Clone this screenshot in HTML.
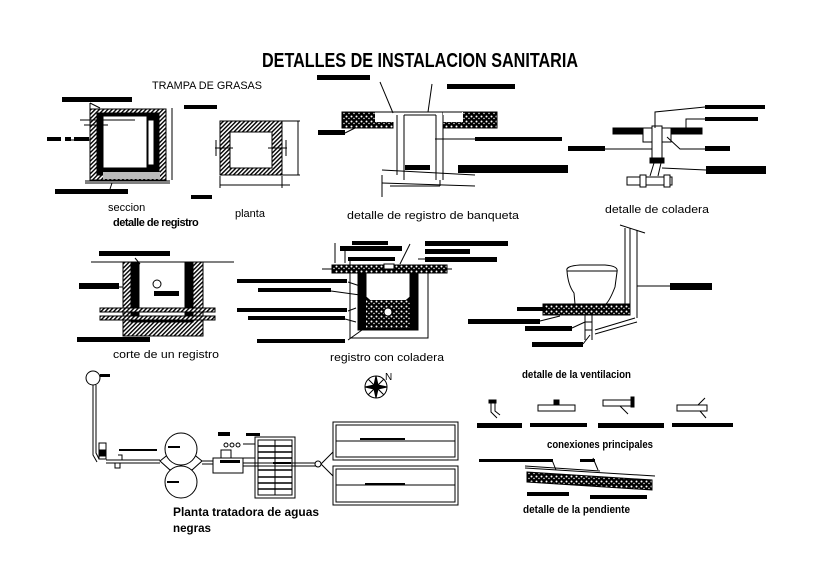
<!DOCTYPE html>
<html><head><meta charset="utf-8"><style>
html,body{margin:0;padding:0;background:#fff;}
svg{display:block;}
text{font-family:"Liberation Sans",sans-serif;fill:#000;}
</style></head><body>
<svg width="814" height="576" viewBox="0 0 814 576" xmlns="http://www.w3.org/2000/svg">
<defs>
<pattern id="h" width="3" height="3" patternUnits="userSpaceOnUse" patternTransform="rotate(45)">
<rect width="3" height="3" fill="#fff"/><rect width="1.4" height="3" fill="#000"/></pattern>
<pattern id="g" width="5" height="5" patternUnits="userSpaceOnUse">
<rect width="5" height="5" fill="#000"/><circle cx="1.5" cy="1.5" r="1" fill="#fff"/><circle cx="4" cy="3.5" r="0.7" fill="#fff"/></pattern>
</defs>
<rect width="814" height="576" fill="#fff"/>
<g fill="none" stroke="#000" stroke-width="1">
<!-- Title -->
<text x="262" y="67" font-size="20" font-weight="bold" textLength="316" lengthAdjust="spacingAndGlyphs" stroke="none">DETALLES DE INSTALACION SANITARIA</text>
<text x="152" y="89" font-size="11" textLength="110" lengthAdjust="spacingAndGlyphs" stroke="none">TRAMPA DE GRASAS</text>

<!-- seccion -->
<rect x="90" y="109" width="76" height="71" fill="url(#h)"/>
<rect x="97" y="113" width="62" height="62" fill="#000"/>
<rect x="103" y="116" width="44" height="52" fill="#fff"/>
<rect x="103" y="172" width="57" height="7" fill="#bbb" stroke="none"/>
<rect x="148" y="120" width="6" height="45" fill="#fff"/>
<line x1="80" y1="120" x2="135" y2="120"/><line x1="84" y1="125" x2="108" y2="125"/>
<line x1="172" y1="108" x2="172" y2="180"/>
<line x1="85" y1="181" x2="170" y2="181"/><line x1="85" y1="183" x2="170" y2="183"/>
<line x1="90" y1="103" x2="90" y2="112"/><line x1="90" y1="103" x2="100" y2="108"/>
<line x1="70" y1="140" x2="90" y2="140"/><line x1="110" y1="189" x2="112" y2="183"/>

<!-- planta -->
<rect x="220" y="121" width="62" height="54" fill="url(#h)"/>
<rect x="230" y="132" width="42" height="36" fill="#fff"/>
<line x1="215" y1="148" x2="233" y2="148"/><line x1="268" y1="148" x2="287" y2="148"/>
<line x1="216" y1="140" x2="216" y2="156"/><line x1="286" y1="140" x2="286" y2="156"/>
<line x1="298" y1="121" x2="298" y2="175"/><line x1="220" y1="185" x2="290" y2="185"/>
<line x1="282" y1="121" x2="300" y2="121"/><line x1="282" y1="175" x2="300" y2="175"/>
<line x1="220" y1="176" x2="220" y2="188"/><line x1="282" y1="176" x2="282" y2="188"/>

<!-- banqueta -->
<rect x="342" y="112" width="51" height="16" fill="url(#g)"/>
<rect x="443" y="112" width="54" height="16" fill="url(#g)"/>
<rect x="375" y="112" width="20" height="10" fill="#fff" stroke="none"/>
<rect x="443" y="112" width="20" height="10" fill="#fff" stroke="none"/>
<line x1="375" y1="112" x2="462" y2="112"/>
<line x1="397" y1="115" x2="397" y2="175"/><line x1="404" y1="115" x2="404" y2="180"/>
<line x1="436" y1="115" x2="436" y2="180"/><line x1="443" y1="115" x2="443" y2="180"/>
<line x1="404" y1="115" x2="436" y2="115"/>
<line x1="382" y1="170" x2="475" y2="175"/><line x1="382" y1="183" x2="475" y2="186"/>
<line x1="382" y1="175" x2="382" y2="197"/><line x1="390" y1="186" x2="440" y2="186"/><line x1="440" y1="180" x2="440" y2="186"/>
<line x1="380" y1="82" x2="393" y2="113"/><line x1="432" y1="84" x2="428" y2="112"/>
<line x1="435" y1="139" x2="476" y2="139"/><line x1="345" y1="133" x2="355" y2="128"/>

<!-- coladera -->
<rect x="613" y="128" width="89" height="6" fill="#000"/>
<rect x="643" y="128" width="28" height="14" fill="#fff"/>
<rect x="652" y="126" width="10" height="34" fill="#fff"/>
<rect x="650" y="158" width="14" height="5" fill="#000"/>
<path d="M654 163 L650 176 M661 163 L658 176"/>
<rect x="627" y="177" width="45" height="8" fill="#fff"/>
<rect x="640" y="175" width="6" height="12" fill="#fff"/><rect x="664" y="175" width="6" height="12" fill="#fff"/>
<path d="M655 128 L655 112 L705 107 M686 130 L686 119 L705 119 M605 149 L652 149 M667 137 L680 149 L705 149 M662 168 L706 170"/>

<!-- corte de un registro -->
<line x1="91" y1="262" x2="234" y2="262"/>
<rect x="123" y="262" width="80" height="74" fill="url(#h)"/>
<rect x="131" y="262" width="62" height="60" fill="#000"/>
<rect x="139" y="262" width="46" height="56" fill="#fff"/>
<circle cx="157" cy="284" r="4" fill="#fff"/>
<rect x="100" y="308" width="115" height="4" fill="url(#h)"/>
<rect x="100" y="316" width="115" height="4" fill="url(#h)"/>
<line x1="100" y1="312" x2="215" y2="312"/><line x1="100" y1="316" x2="215" y2="316"/>
<line x1="119" y1="287" x2="123" y2="287"/><line x1="135" y1="258" x2="140" y2="264"/>

<!-- registro con coladera -->
<line x1="322" y1="269" x2="452" y2="269"/>
<rect x="332" y="265" width="115" height="8" fill="url(#g)"/>
<rect x="350" y="273" width="78" height="65" fill="#fff"/>
<rect x="358" y="273" width="60" height="57" fill="#000"/>
<path d="M366 273 L366 297 Q388 318 410 297 L410 273 Z" fill="#fff"/>
<path d="M366 300 L388 315 L410 300" fill="none"/>
<rect x="366" y="300" width="44" height="28" fill="url(#g)" stroke="none"/>
<circle cx="388" cy="312" r="4" fill="#fff"/>
<rect x="384" y="264" width="10" height="5" fill="#fff"/>
<path d="M335 243 L335 263 M345 249 L345 263 M350 259 L350 265 M418 259 L425 259 M410 244 L400 264 M348 282 L360 286 M331 291 L360 295 M348 311 L356 308 M345 319 L356 322 M348 340 L362 330"/>

<!-- ventilacion -->
<rect x="543" y="304" width="87" height="11" fill="url(#g)"/>
<path d="M567 271 Q565 266 580 265 L605 265 Q619 266 617 272 L615 287 Q610 300 606 304 L575 304 L574 293 Q568 285 567 271 Z" fill="#fff"/>
<line x1="567" y1="271" x2="617" y2="271"/>
<line x1="625" y1="228" x2="625" y2="312"/><line x1="630" y1="228" x2="630" y2="312"/><line x1="637" y1="230" x2="637" y2="318"/>
<line x1="620" y1="225" x2="645" y2="233"/>
<path d="M585 315 L585 340 M592 315 L592 340 M585 322 L592 322 M585 330 L592 330 M595 330 L635 318 M595 334 L637 322 M637 286 L670 286 M540 321 L560 316 M572 328 L585 322 M583 344 L590 335"/>

<!-- compass -->
<circle cx="376" cy="387" r="11"/>
<path d="M376 376 L378 385 L387 387 L378 389 L376 398 L374 389 L365 387 L374 385 Z" fill="#000"/>
<path d="M368 379 L384 395 M384 379 L368 395"/>
<text x="385" y="380" font-size="10" stroke="none">N</text>

<!-- planta tratadora -->
<circle cx="93" cy="378" r="7" fill="#fff"/>
<path d="M93 385 L93 455 L97 462 M96 385 L96 453 L99 459"/>
<rect x="99" y="443" width="7" height="16" fill="#fff"/><rect x="100" y="450" width="6" height="6" fill="#000"/>
<path d="M106 460 L160 460 M106 463 L160 463 M118 455 L122 455 L122 460 M115 463 L115 468 L120 468 L120 463"/>
<path d="M160 461 L170 453 L181 466 L192 453 L202 461 L192 470 L181 466 L170 470 Z"/>
<circle cx="181" cy="449" r="16" fill="#fff"/>
<circle cx="181" cy="482" r="16" fill="#fff"/>
<path d="M202 461 L213 461 M202 464 L213 464"/>
<rect x="213" y="458" width="30" height="15" fill="#fff"/>
<rect x="221" y="450" width="10" height="8" fill="#fff"/>
<circle cx="226" cy="445" r="2"/><circle cx="232" cy="445" r="2"/><circle cx="238" cy="445" r="2"/>
<path d="M243 444 L255 444 M243 458 L255 458"/>
<rect x="255" y="437" width="40" height="61" fill="#fff"/>
<rect x="258" y="440" width="34" height="55"/>
<line x1="275" y1="440" x2="275" y2="495"/>
<g stroke-width="1.5"><path d="M258 446 L292 446 M258 452 L292 452 M258 458 L292 458 M258 470 L292 470 M258 477 L292 477 M258 483 L292 483 M258 489 L292 489"/></g>
<path d="M243 463 L320 463 M243 466 L320 466"/>
<circle cx="318" cy="464" r="3" fill="#fff"/>
<path d="M321 464 L333 452 M321 464 L333 476"/>
<rect x="333" y="422" width="125" height="38"/><rect x="336" y="425" width="119" height="32"/>
<line x1="336" y1="441" x2="455" y2="441"/>
<rect x="333" y="466" width="125" height="39"/><rect x="336" y="469" width="119" height="33"/>
<line x1="336" y1="485" x2="455" y2="485"/>

<!-- conexiones -->
<path d="M491 403 L491 412 L497 418 M495 403 L495 411 L500 415"/><rect x="489" y="400" width="7" height="3" fill="#000"/>
<rect x="538" y="405" width="37" height="6"/><rect x="554" y="400" width="5" height="5" fill="#000"/>
<rect x="603" y="400" width="30" height="6"/><path d="M620 406 L628 414"/><rect x="631" y="397" width="3" height="10" fill="#000"/>
<rect x="677" y="405" width="30" height="6"/><path d="M698 405 L705 398 M700 411 L706 418"/>

<!-- pendiente -->
<path d="M527 472 L652 480 L652 490 L527 482 Z" fill="url(#g)"/>
<path d="M525 468 L655 476 M525 466 L600 471"/>
<path d="M552 460 L556 470 M593 458 L598 470"/>
</g>

<!-- label bars -->
<g fill="#000">
<rect x="62" y="97" width="70" height="5"/><rect x="184" y="105" width="33" height="4"/>
<rect x="47" y="137" width="14" height="4"/><rect x="65" y="137" width="6" height="4"/><rect x="74" y="137" width="15" height="4"/>
<rect x="55" y="189" width="73" height="5"/><rect x="191" y="195" width="21" height="4"/>
<rect x="317" y="75" width="53" height="5"/><rect x="447" y="84" width="68" height="5"/>
<rect x="318" y="130" width="27" height="5"/><rect x="475" y="137" width="87" height="4"/>
<rect x="458" y="165" width="110" height="8"/><rect x="405" y="165" width="25" height="5"/>
<rect x="705" y="105" width="60" height="4"/><rect x="705" y="117" width="53" height="4"/>
<rect x="568" y="146" width="37" height="5"/><rect x="705" y="146" width="25" height="5"/><rect x="706" y="166" width="60" height="8"/>
<rect x="99" y="251" width="71" height="5"/><rect x="79" y="283" width="40" height="6"/><rect x="154" y="291" width="25" height="5"/><rect x="77" y="337" width="73" height="5"/>
<rect x="352" y="241" width="36" height="4"/><rect x="340" y="246" width="62" height="5"/><rect x="348" y="257" width="47" height="4"/>
<rect x="425" y="241" width="83" height="5"/><rect x="425" y="249" width="45" height="5"/><rect x="425" y="257" width="72" height="5"/>
<rect x="237" y="279" width="110" height="4"/><rect x="258" y="288" width="73" height="4"/><rect x="237" y="308" width="110" height="4"/><rect x="248" y="316" width="97" height="4"/><rect x="257" y="339" width="88" height="4"/>
<rect x="517" y="307" width="29" height="4"/><rect x="468" y="319" width="72" height="5"/><rect x="525" y="326" width="47" height="5"/><rect x="532" y="342" width="51" height="5"/><rect x="670" y="283" width="42" height="7"/>
<rect x="477" y="423" width="45" height="5"/><rect x="530" y="423" width="57" height="4"/><rect x="598" y="423" width="66" height="5"/><rect x="672" y="423" width="61" height="4"/>
<rect x="479" y="459" width="74" height="3"/><rect x="580" y="459" width="15" height="3"/><rect x="527" y="492" width="42" height="4"/><rect x="590" y="495" width="57" height="4"/>
<rect x="100" y="374" width="10" height="3"/><rect x="220" y="460" width="20" height="3"/><rect x="273" y="462" width="18" height="2"/><rect x="360" y="438" width="45" height="2"/><rect x="365" y="483" width="40" height="2"/>
<rect x="119" y="449" width="38" height="2"/><rect x="168" y="446" width="12" height="2"/><rect x="167" y="481" width="12" height="2"/><rect x="218" y="432" width="12" height="4"/><rect x="246" y="433" width="14" height="3"/>
</g>

<!-- captions -->
<g stroke="none">
<text x="108" y="211" font-size="11">seccion</text>
<text x="113" y="226" font-size="11" font-weight="bold" letter-spacing="-0.5">detalle de registro</text>
<text x="235" y="217" font-size="11">planta</text>
<text x="347" y="219" font-size="11" textLength="172" lengthAdjust="spacingAndGlyphs">detalle de registro de banqueta</text>
<text x="605" y="213" font-size="11" textLength="104" lengthAdjust="spacingAndGlyphs">detalle de coladera</text>
<text x="113" y="358" font-size="11" textLength="106" lengthAdjust="spacingAndGlyphs">corte de un registro</text>
<text x="330" y="361" font-size="11" textLength="114" lengthAdjust="spacingAndGlyphs">registro con coladera</text>
<text x="522" y="378" font-size="11" font-weight="bold" textLength="109" lengthAdjust="spacingAndGlyphs">detalle de la ventilacion</text>
<text x="547" y="448" font-size="11" font-weight="bold" textLength="106" lengthAdjust="spacingAndGlyphs">conexiones principales</text>
<text x="523" y="513" font-size="11" font-weight="bold" textLength="107" lengthAdjust="spacingAndGlyphs">detalle de la pendiente</text>
<text x="173" y="516" font-size="12" font-weight="bold" textLength="146" lengthAdjust="spacingAndGlyphs">Planta tratadora de aguas</text>
<text x="173" y="532" font-size="12" font-weight="bold" textLength="38" lengthAdjust="spacingAndGlyphs">negras</text>
</g>
</svg>
</body></html>
